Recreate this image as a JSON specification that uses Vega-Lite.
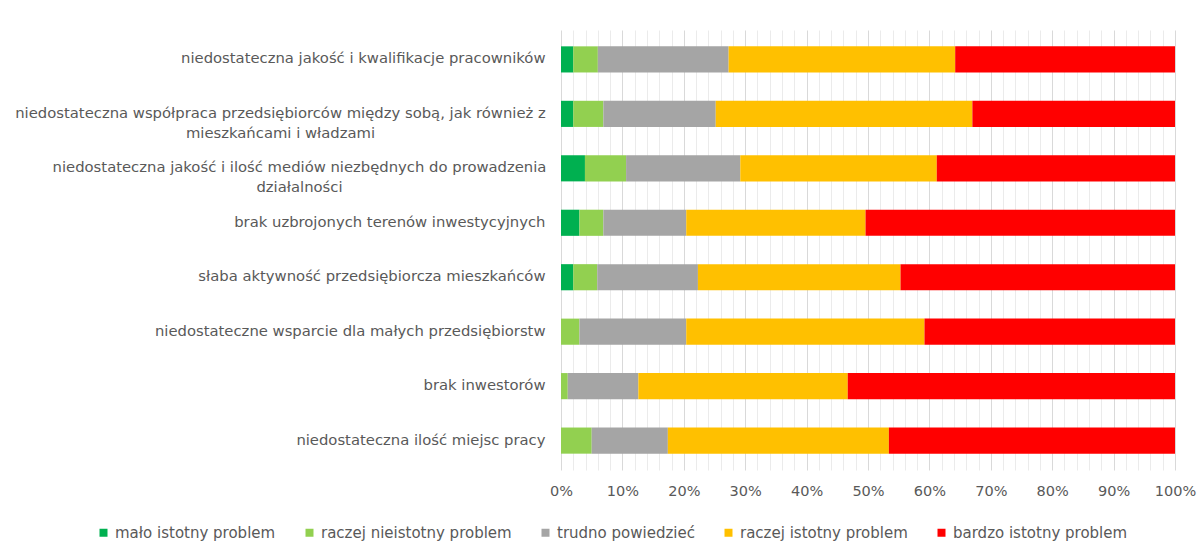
{
  "$schema": "https://vega.github.io/schema/vega-lite/v6.json",
  "autosize": "none",
  "width": 614,
  "height": 440,
  "padding": {"left": 561, "top": 30, "right": 28, "bottom": 81},
  "background": "white",
  "config": {
    "font": "DejaVu Sans",
    "view": {"stroke": null}
  },
  "data": {
    "values": [
      {"cat": "niedostateczna jakość i kwalifikacje pracowników", "s": "mało istotny problem", "k": 1, "v": 2.0},
      {"cat": "niedostateczna jakość i kwalifikacje pracowników", "s": "raczej nieistotny problem", "k": 2, "v": 4.0},
      {"cat": "niedostateczna jakość i kwalifikacje pracowników", "s": "trudno powiedzieć", "k": 3, "v": 21.3},
      {"cat": "niedostateczna jakość i kwalifikacje pracowników", "s": "raczej istotny problem", "k": 4, "v": 36.9},
      {"cat": "niedostateczna jakość i kwalifikacje pracowników", "s": "bardzo istotny problem", "k": 5, "v": 35.8},
      {"cat": "niedostateczna współpraca przedsiębiorców między sobą, jak również z mieszkańcami i władzami", "s": "mało istotny problem", "k": 1, "v": 2.0},
      {"cat": "niedostateczna współpraca przedsiębiorców między sobą, jak również z mieszkańcami i władzami", "s": "raczej nieistotny problem", "k": 2, "v": 4.9},
      {"cat": "niedostateczna współpraca przedsiębiorców między sobą, jak również z mieszkańcami i władzami", "s": "trudno powiedzieć", "k": 3, "v": 18.3},
      {"cat": "niedostateczna współpraca przedsiębiorców między sobą, jak również z mieszkańcami i władzami", "s": "raczej istotny problem", "k": 4, "v": 41.8},
      {"cat": "niedostateczna współpraca przedsiębiorców między sobą, jak również z mieszkańcami i władzami", "s": "bardzo istotny problem", "k": 5, "v": 33.0},
      {"cat": "niedostateczna jakość i ilość mediów niezbędnych do prowadzenia działalności", "s": "mało istotny problem", "k": 1, "v": 3.9},
      {"cat": "niedostateczna jakość i ilość mediów niezbędnych do prowadzenia działalności", "s": "raczej nieistotny problem", "k": 2, "v": 6.7},
      {"cat": "niedostateczna jakość i ilość mediów niezbędnych do prowadzenia działalności", "s": "trudno powiedzieć", "k": 3, "v": 18.6},
      {"cat": "niedostateczna jakość i ilość mediów niezbędnych do prowadzenia działalności", "s": "raczej istotny problem", "k": 4, "v": 32.0},
      {"cat": "niedostateczna jakość i ilość mediów niezbędnych do prowadzenia działalności", "s": "bardzo istotny problem", "k": 5, "v": 38.8},
      {"cat": "brak uzbrojonych terenów inwestycyjnych", "s": "mało istotny problem", "k": 1, "v": 3.0},
      {"cat": "brak uzbrojonych terenów inwestycyjnych", "s": "raczej nieistotny problem", "k": 2, "v": 3.9},
      {"cat": "brak uzbrojonych terenów inwestycyjnych", "s": "trudno powiedzieć", "k": 3, "v": 13.5},
      {"cat": "brak uzbrojonych terenów inwestycyjnych", "s": "raczej istotny problem", "k": 4, "v": 29.2},
      {"cat": "brak uzbrojonych terenów inwestycyjnych", "s": "bardzo istotny problem", "k": 5, "v": 50.4},
      {"cat": "słaba aktywność przedsiębiorcza mieszkańców", "s": "mało istotny problem", "k": 1, "v": 2.0},
      {"cat": "słaba aktywność przedsiębiorcza mieszkańców", "s": "raczej nieistotny problem", "k": 2, "v": 3.9},
      {"cat": "słaba aktywność przedsiębiorcza mieszkańców", "s": "trudno powiedzieć", "k": 3, "v": 16.4},
      {"cat": "słaba aktywność przedsiębiorcza mieszkańców", "s": "raczej istotny problem", "k": 4, "v": 33.0},
      {"cat": "słaba aktywność przedsiębiorcza mieszkańców", "s": "bardzo istotny problem", "k": 5, "v": 44.7},
      {"cat": "niedostateczne wsparcie dla małych przedsiębiorstw", "s": "mało istotny problem", "k": 1, "v": 0},
      {"cat": "niedostateczne wsparcie dla małych przedsiębiorstw", "s": "raczej nieistotny problem", "k": 2, "v": 3.0},
      {"cat": "niedostateczne wsparcie dla małych przedsiębiorstw", "s": "trudno powiedzieć", "k": 3, "v": 17.4},
      {"cat": "niedostateczne wsparcie dla małych przedsiębiorstw", "s": "raczej istotny problem", "k": 4, "v": 38.8},
      {"cat": "niedostateczne wsparcie dla małych przedsiębiorstw", "s": "bardzo istotny problem", "k": 5, "v": 40.8},
      {"cat": "brak inwestorów", "s": "mało istotny problem", "k": 1, "v": 0},
      {"cat": "brak inwestorów", "s": "raczej nieistotny problem", "k": 2, "v": 1.1},
      {"cat": "brak inwestorów", "s": "trudno powiedzieć", "k": 3, "v": 11.5},
      {"cat": "brak inwestorów", "s": "raczej istotny problem", "k": 4, "v": 34.1},
      {"cat": "brak inwestorów", "s": "bardzo istotny problem", "k": 5, "v": 53.3},
      {"cat": "niedostateczna ilość miejsc pracy", "s": "mało istotny problem", "k": 1, "v": 0},
      {"cat": "niedostateczna ilość miejsc pracy", "s": "raczej nieistotny problem", "k": 2, "v": 5.0},
      {"cat": "niedostateczna ilość miejsc pracy", "s": "trudno powiedzieć", "k": 3, "v": 12.4},
      {"cat": "niedostateczna ilość miejsc pracy", "s": "raczej istotny problem", "k": 4, "v": 36.0},
      {"cat": "niedostateczna ilość miejsc pracy", "s": "bardzo istotny problem", "k": 5, "v": 46.6}
    ]
  },
  "mark": {"type": "bar"},
  "encoding": {
    "y": {
      "field": "cat",
      "type": "nominal",
      "sort": null,
      "scale": {"paddingInner": 0.52, "paddingOuter": 0.3},
      "axis": {
        "title": null,
        "domain": false,
        "ticks": false,
        "labelAlign": {"condition": {"test": "indexof(datum.value, 'władzami') >= 0 || indexof(datum.value, 'działalności') >= 0", "value": "center"}, "value": "right"},
        "labelPadding": {"condition": [
          {"test": "indexof(datum.value, 'władzami') >= 0", "value": 281},
          {"test": "indexof(datum.value, 'działalności') >= 0", "value": 262}
        ], "value": 16},
        "labelFontSize": 14.8,
        "labelColor": "#595959",
        "labelLimit": 600,
        "labelLineHeight": 20,
        "labelExpr": "datum.value == 'niedostateczna współpraca przedsiębiorców między sobą, jak również z mieszkańcami i władzami' ? ['niedostateczna współpraca przedsiębiorców między sobą, jak również z', 'mieszkańcami i władzami'] : datum.value == 'niedostateczna jakość i ilość mediów niezbędnych do prowadzenia działalności' ? ['niedostateczna jakość i ilość mediów niezbędnych do prowadzenia', 'działalności'] : datum.value"
      }
    },
    "x": {
      "field": "v",
      "type": "quantitative",
      "stack": "normalize",
      "scale": {"domain": [0, 1], "nice": false},
      "axis": {
        "title": null,
        "domain": false,
        "ticks": false,
        "format": ".0%",
        "values": [0, 0.02, 0.04, 0.06, 0.08, 0.1, 0.12, 0.14, 0.16, 0.18, 0.2, 0.22, 0.24, 0.26, 0.28, 0.3, 0.32, 0.34, 0.36, 0.38, 0.4, 0.42, 0.44, 0.46, 0.48, 0.5, 0.52, 0.54, 0.56, 0.58, 0.6, 0.62, 0.64, 0.66, 0.68, 0.7, 0.72, 0.74, 0.76, 0.78, 0.8, 0.82, 0.84, 0.86, 0.88, 0.9, 0.92, 0.94, 0.96, 0.98, 1],
        "labelExpr": "abs(datum.value * 10 - round(datum.value * 10)) < 0.001 ? datum.label : ''",
        "labelFontSize": 14.5,
        "labelColor": "#595959",
        "labelPadding": 14,
        "labelFlush": false,
        "labelOverlap": false,
        "grid": true,
        "gridColor": {"condition": {"test": "abs(datum.value * 10 - round(datum.value * 10)) < 0.001", "value": "#D9D9D9"}, "value": "#EBEBEB"}
      }
    },
    "color": {
      "field": "s",
      "type": "nominal",
      "sort": ["mało istotny problem", "raczej nieistotny problem", "trudno powiedzieć", "raczej istotny problem", "bardzo istotny problem"],
      "scale": {
        "domain": ["mało istotny problem", "raczej nieistotny problem", "trudno powiedzieć", "raczej istotny problem", "bardzo istotny problem"],
        "range": ["#00B050", "#92D050", "#A5A5A5", "#FFC000", "#FF0000"]
      },
      "legend": {
        "title": null,
        "orient": "none",
        "direction": "horizontal",
        "legendX": -465,
        "legendY": 495,
        "symbolType": "square",
        "symbolSize": 64,
        "symbolStrokeWidth": 0,
        "labelFontSize": 15,
        "labelColor": "#595959",
        "labelLimit": 300,
        "columnPadding": 26,
        "labelOffset": 4
      }
    },
    "order": {"field": "k", "type": "quantitative"}
  }
}
